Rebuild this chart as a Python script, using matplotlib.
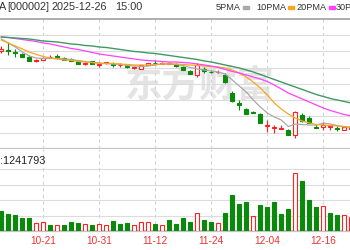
import numpy as np
import matplotlib.pyplot as plt
from matplotlib.patches import Rectangle

plt.rcParams['font.family'] = ['Liberation Sans', 'DejaVu Sans']

dates = ['10-13', '10-14', '10-15', '10-16', '10-17', '10-20', '10-21', '10-22', '10-23', '10-24',
         '10-27', '10-28', '10-29', '10-30', '10-31', '11-03', '11-04', '11-05', '11-06', '11-07',
         '11-10', '11-11', '11-12', '11-13', '11-14', '11-17', '11-18', '11-19', '11-20', '11-21',
         '11-24', '11-25', '11-26', '11-27', '11-28', '12-01', '12-02', '12-03', '12-04', '12-05',
         '12-08', '12-09', '12-10', '12-11', '12-12', '12-15', '12-16', '12-17', '12-18', '12-19',
         '12-22']
opens = [6.96, 6.98, 6.94, 6.90, 6.84, 6.76, 6.78, 6.83, 6.86, 6.82,
         6.80, 6.76, 6.70, 6.76, 6.68, 6.71, 6.70, 6.67, 6.65, 6.62,
         6.60, 6.68, 6.72, 6.70, 6.70, 6.70, 6.64, 6.56, 6.48, 6.60,
         6.54, 6.53, 6.48, 6.12, 5.92, 5.80, 5.74, 5.70, 5.46, 5.43,
         5.40, 5.38, 5.28, 5.68, 5.62, 5.44, 5.44, 5.44, 5.42, 5.38,
         5.40]
closes = [7.00, 6.96, 6.92, 6.84, 6.76, 6.78, 6.82, 6.84, 6.84, 6.78,
          6.76, 6.70, 6.72, 6.70, 6.70, 6.74, 6.68, 6.68, 6.64, 6.63,
          6.68, 6.72, 6.71, 6.72, 6.72, 6.65, 6.58, 6.50, 6.68, 6.56,
          6.53, 6.54, 6.34, 5.96, 5.88, 5.70, 5.72, 5.52, 5.48, 5.44,
          5.42, 5.28, 5.74, 5.56, 5.52, 5.42, 5.48, 5.46, 5.40, 5.44,
          5.44]
highs = [7.06, 7.14, 7.00, 6.92, 6.88, 6.80, 6.84, 6.88, 6.90, 6.84,
         6.82, 6.76, 6.74, 6.76, 6.74, 6.74, 6.74, 6.72, 6.68, 6.66,
         6.68, 6.72, 6.78, 6.73, 6.74, 6.72, 6.66, 6.58, 6.72, 6.64,
         6.58, 6.58, 6.52, 6.16, 5.98, 5.82, 5.75, 5.72, 5.58, 5.48,
         5.48, 5.40, 5.76, 5.72, 5.66, 5.50, 5.54, 5.46, 5.45, 5.46,
         5.46]
lows = [6.92, 6.88, 6.84, 6.84, 6.76, 6.74, 6.78, 6.82, 6.80, 6.78,
        6.76, 6.70, 6.68, 6.70, 6.64, 6.70, 6.64, 6.64, 6.62, 6.60,
        6.60, 6.67, 6.67, 6.69, 6.69, 6.64, 6.58, 6.50, 6.44, 6.52,
        6.52, 6.52, 6.32, 5.94, 5.78, 5.70, 5.71, 5.52, 5.34, 5.32,
        5.40, 5.28, 5.22, 5.54, 5.52, 5.41, 5.38, 5.38, 5.36, 5.38,
        5.38]
ma5 = [7.20, 7.12, 7.04, 6.94, 6.86, 6.82, 6.81, 6.81, 6.81, 6.80,
       6.79, 6.77, 6.75, 6.73, 6.71, 6.71, 6.70, 6.69, 6.67, 6.66,
       6.65, 6.66, 6.68, 6.70, 6.70, 6.69, 6.67, 6.63, 6.60, 6.58,
       6.56, 6.54, 6.50, 6.38, 6.26, 6.14, 5.98, 5.84, 5.72, 5.64,
       5.58, 5.45, 5.50, 5.49, 5.48, 5.48, 5.52, 5.50, 5.47, 5.44,
       5.44]
ma10 = [7.18, 7.12, 7.06, 7.00, 6.94, 6.89, 6.85, 6.82, 6.80, 6.78,
        6.77, 6.75, 6.74, 6.73, 6.72, 6.71, 6.71, 6.70, 6.69, 6.68,
        6.68, 6.68, 6.69, 6.70, 6.70, 6.70, 6.69, 6.68, 6.67, 6.66,
        6.65, 6.64, 6.62, 6.58, 6.52, 6.44, 6.34, 6.22, 6.08, 5.92,
        5.80, 5.70, 5.62, 5.56, 5.52, 5.49, 5.48, 5.47, 5.46, 5.45,
        5.44]
ma20 = [7.24, 7.23, 7.21, 7.19, 7.17, 7.15, 7.12, 7.10, 7.07, 7.04,
        7.01, 6.99, 6.96, 6.93, 6.90, 6.88, 6.86, 6.84, 6.82, 6.80,
        6.78, 6.77, 6.76, 6.75, 6.74, 6.74, 6.73, 6.72, 6.70, 6.68,
        6.66, 6.63, 6.59, 6.55, 6.52, 6.48, 6.44, 6.40, 6.35, 6.28,
        6.20, 6.12, 6.06, 6.00, 5.94, 5.88, 5.82, 5.77, 5.73, 5.69,
        5.66]
ma30 = [7.24, 7.23, 7.22, 7.21, 7.20, 7.18, 7.16, 7.15, 7.14, 7.12,
        7.10, 7.09, 7.07, 7.06, 7.04, 7.03, 7.01, 6.99, 6.97, 6.95,
        6.94, 6.92, 6.91, 6.89, 6.87, 6.85, 6.83, 6.81, 6.79, 6.76,
        6.74, 6.71, 6.68, 6.65, 6.62, 6.58, 6.54, 6.49, 6.44, 6.39,
        6.34, 6.29, 6.24, 6.19, 6.14, 6.09, 6.05, 6.01, 5.98, 5.95,
        5.92]
# volume in 10k lots
volumes = [100, 85, 80, 63, 63, 38, 43, 32, 32, 32,
           43, 40, 35, 32, 35, 32, 50, 33, 40, 32,
           43, 43, 35, 32, 55, 35, 63, 47, 90, 55,
           45, 40, 90, 181, 136, 146, 77, 128, 118, 146,
           87, 108, 288, 250, 155, 118, 126, 90, 78, 78,
           68]
vol_up = [0, 0, 0, 0, 0, 1, 1, 0, 1, 0,
          0, 0, 1, 0, 1, 1, 0, 0, 0, 1,
          1, 1, 0, 1, 0, 0, 0, 0, 1, 0,
          0, 1, 0, 0, 0, 0, 1, 0, 0, 0,
          0, 0, 1, 0, 0, 0, 1, 0, 0, 1,
          1]
tick_labels = ['10-21', '10-31', '11-12', '11-24', '12-04', '12-16']
last_volume = '1241793'

RED = '#ff2020'
GREEN = '#0a8a0a'
W, H = 350, 250


def fx(px):
    return px / W


def fy(py):
    return 1 - py / H


fig = plt.figure(figsize=(3.5, 2.5), dpi=100)
ax = fig.add_axes([0, fy(149), 1, 130 / H])
axv = fig.add_axes([0, fy(231), 1, 82 / H], sharex=ax)

x = np.arange(len(dates))
ticks = [dates.index(t) for t in tick_labels]

# candles
for i in x:
    o, c = opens[i], closes[i]
    up = c >= o
    col = RED if up else GREEN
    ax.vlines(i, lows[i], highs[i], color=col, lw=0.8, zorder=3)
    ax.bar(i, max(abs(c - o), 0.004), bottom=min(o, c), width=0.56,
           facecolor='white' if up else col, edgecolor=col, lw=0.8, zorder=4)

ax.plot(x, ma5, color='#a9a9a9', lw=0.9, zorder=5)
ax.plot(x, ma10, color='#f5a623', lw=0.9, zorder=5)
ax.plot(x, ma20, color='#ff40ff', lw=0.9, zorder=5)
ax.plot(x, ma30, color='#3e9a62', lw=1.0, zorder=5)

# watermark
ax.text(fx(200), fy(86), '东方财富', transform=fig.transFigure, ha='center', va='center',
        fontsize=27, family='Noto Sans CJK SC', weight='bold', style='italic',
        color='#e4e4e4', zorder=1)

ax.set_xlim(-1.3 / 7, (W - 1.3) / 7)
ax.set_ylim(5.0, 7.6)
ax.set_yticks(5.0 + 0.325 * np.arange(1, 8))
ax.set_xticks(ticks)
ax.yaxis.grid(True, color='#dcdcdc', lw=0.8)
ax.xaxis.grid(True, color='#d2d2d2', lw=0.8, ls=(0, (3, 3)))
ax.tick_params(length=0, labelleft=False, labelbottom=False)
for s in ['left', 'right']:
    ax.spines[s].set_visible(False)
ax.spines['top'].set_color('#a0a0a0')
ax.spines['top'].set_linewidth(1.2)
ax.spines['bottom'].set_color('#c4c4c4')
ax.spines['bottom'].set_linewidth(1.6)

# volume
fcs = ['white' if u else GREEN for u in vol_up]
ecs = [RED if u else GREEN for u in vol_up]
axv.bar(x, volumes, width=0.6, color=fcs, edgecolor=ecs, lw=0.8, zorder=3)
axv.set_ylim(0, 410)
axv.set_yticks([77.5, 155, 232.5, 310])
axv.yaxis.grid(True, color='#dcdcdc', lw=0.8)
axv.xaxis.grid(True, color='#d2d2d2', lw=0.8, ls=(0, (3, 3)))
axv.set_xticks(ticks)
axv.set_xticklabels(tick_labels)
axv.tick_params(length=0, labelleft=False, pad=3.8, labelsize=7.2, labelcolor='#f03030')
for s in ['left', 'right', 'top']:
    axv.spines[s].set_visible(False)
axv.spines['bottom'].set_color('#c4c4c4')
axv.spines['bottom'].set_linewidth(1.6)

# header texts
header = [('A', -1), ('[000002]', 7), ('2025-12-26', 51), ('15:00', 115)]
for s, px in header:
    fig.text(fx(px), fy(7.5), s, ha='left', va='center', fontsize=7.8, color='#333333')
fig.text(fx(0), fy(161), ':' + last_volume, ha='left', va='center', fontsize=7.8,
         color='#222222')
legend = [('5PMA', 243, '#a9a9a9'), ('10PMA', 288, '#f5a623'),
          ('20PMA', 329, '#ff40ff'), ('30PMA', 368, '#3e9a62')]
for name, px, col in legend:
    fig.text(fx(px - 2), fy(7.5), name, ha='right', va='center', fontsize=6.6, color='#333333')
    fig.patches.append(Rectangle((fx(px), fy(9)), 5.5 / W, 2.5 / H,
                                 transform=fig.transFigure, color=col, figure=fig))

fig.savefig('out.png', dpi=100)
